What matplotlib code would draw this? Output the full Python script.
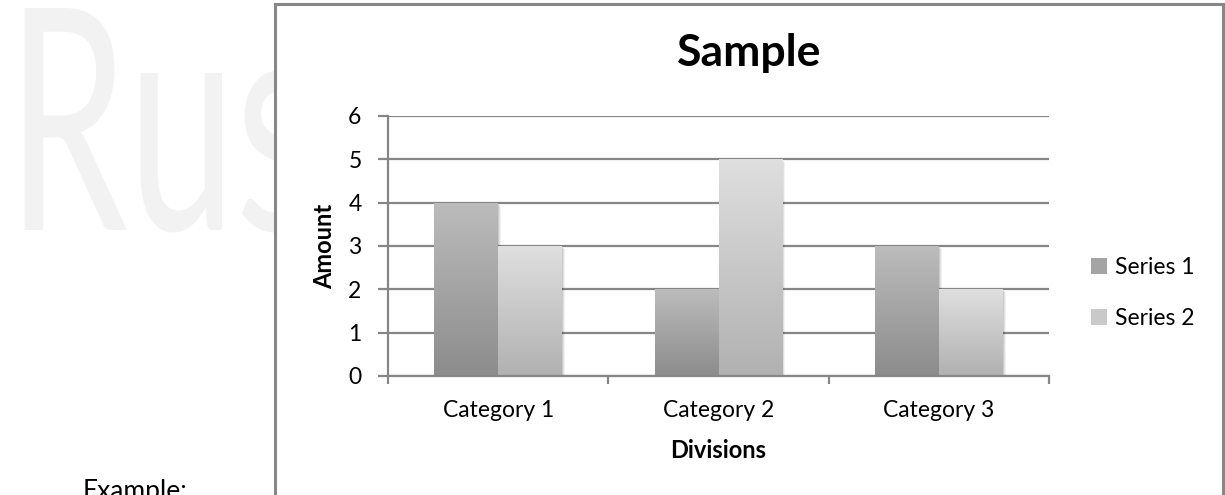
import numpy as np
import matplotlib
matplotlib.use("Agg")
import matplotlib.pyplot as plt
from matplotlib.patches import Rectangle, PathPatch
from matplotlib.textpath import TextPath
from matplotlib.font_manager import FontProperties
from matplotlib.colors import LinearSegmentedColormap
from matplotlib.transforms import Affine2D, IdentityTransform, offset_copy

# ---- data ----
categories = ["Category 1", "Category 2", "Category 3"]
series_names = ["Series 1", "Series 2"]
series1 = [4, 2, 3]
series2 = [3, 5, 2]
y_ticks = [0, 1, 2, 3, 4, 5, 6]

FONT = "Lato"
GRID = "#868686"
W, H, DPI = 1225, 495, 100

plt.rcParams["font.family"] = [FONT, "DejaVu Sans"]

fig = plt.figure(figsize=(W / DPI, H / DPI), dpi=DPI)
fig.patch.set_facecolor("white")

# faint background lettering, partly hidden behind the chart frame
fp = FontProperties(family=FONT, weight="normal")
tp_r = TextPath((0, 0), "R", size=100, prop=fp)
tp_ru = TextPath((0, 0), "Ru", size=100, prop=fp)
tp = TextPath((0, 0), "Rus", size=100, prop=fp)
rx0, ry0 = tp_r.vertices.min(axis=0)
rx1, ry1 = tp_r.vertices.max(axis=0)
ux1 = tp_ru.vertices[:, 0].max()
sx = (222 - 7) / (ux1 - rx0)
sy = 222 / (ry1 - ry0)
wm_tr = Affine2D().translate(-rx0, 0).scale(sx, sy).translate(7, H - 230)
wm = PathPatch(wm_tr.transform_path(tp), facecolor="#f2f2f2", edgecolor="none",
               transform=IdentityTransform(), zorder=-3)
fig.patches.append(wm)

fig.text(83 / W, -4 / H, "Example:", fontsize=19, color="#000000",
         ha="left", va="baseline", zorder=-2)

# chart frame
frame = Rectangle((275 / W, -0.1), (1223 - 275) / W, (H - 4) / H + 0.1,
                  transform=fig.transFigure, facecolor="white",
                  edgecolor="#878787", linewidth=2.2, zorder=-1)
fig.patches.append(frame)

# plot area
left, right, top, bottom = 388, 1049, 116, 376
ax = fig.add_axes([left / W, (H - bottom) / H, (right - left) / W, (bottom - top) / H])
ax.set_facecolor("none")

x = np.arange(len(categories))
bw = 0.289
b1 = ax.bar(x - bw / 2, series1, width=bw, color="#a4a4a4", zorder=2, linewidth=0,
            label=series_names[0])
b2 = ax.bar(x + bw / 2, series2, width=bw, color="#c9c9c9", zorder=2, linewidth=0,
            label=series_names[1])


def shade(bars, top_c, bot_c):
    cmap = LinearSegmentedColormap.from_list("g", [top_c, bot_c])
    grad = np.linspace(0, 1, 256).reshape(-1, 1)
    for b in bars:
        bx, by, w_, h_ = b.get_x(), b.get_y(), b.get_width(), b.get_height()
        # soft drop shadow
        for k, a in ((3, 0.05), (2, 0.07), (1, 0.09)):
            sh = Rectangle((bx, by), w_, h_, facecolor="black", alpha=a, linewidth=0,
                           zorder=1.5,
                           transform=offset_copy(ax.transData, fig=fig, x=k, y=-k,
                                                 units="dots"))
            ax.add_patch(sh)
        im = ax.imshow(grad, cmap=cmap, extent=(bx, bx + w_, by, by + h_),
                       aspect="auto", origin="upper", zorder=2.1,
                       interpolation="bilinear")
        im.set_clip_path(b)


shade(b1, "#bcbcbc", "#8c8c8c")
shade(b2, "#dfdfdf", "#b1b1b1")

ax.set_xlim(-0.5, len(categories) - 0.5)
ax.set_ylim(0, 6)
ax.set_yticks(y_ticks)
ax.yaxis.grid(True, color=GRID, linewidth=1.6)
ax.set_axisbelow(True)

for s in ("top", "right"):
    ax.spines[s].set_visible(False)
for s in ("left", "bottom"):
    ax.spines[s].set_color(GRID)
    ax.spines[s].set_linewidth(1.6)

ax.set_xticks(x)
ax.set_xticklabels(categories)
ax.set_xticks(np.arange(-0.5, len(categories), 1.0), minor=True)
ax.tick_params(axis="x", which="major", length=0, pad=17, labelsize=16.5)
ax.tick_params(axis="x", which="minor", length=6, width=1.6, color=GRID)
ax.tick_params(axis="y", length=7, width=1.6, color=GRID, pad=12, labelsize=16.5)

fig.text((left + right) / 2 / W, (H - 451) / H, "Divisions", fontsize=17,
         fontweight="bold", ha="center", va="center")
fig.text(325 / W, (H - (top + bottom) / 2) / H, "Amount", fontsize=17,
         fontweight="bold", ha="center", va="center", rotation=90)
fig.text(749 / W, (H - 66) / H, "Sample", fontsize=32, fontweight="bold",
         ha="center", va="baseline")

leg = fig.legend(handles=[b1, b2], labels=series_names, loc="center left",
                 bbox_to_anchor=(1091 / W, (H - 293) / H), frameon=False,
                 fontsize=16.5, handlelength=0.68, handleheight=0.68,
                 handletextpad=0.35, labelspacing=1.3, borderpad=0,
                 borderaxespad=0)

fig.savefig("out.png", dpi=DPI)
